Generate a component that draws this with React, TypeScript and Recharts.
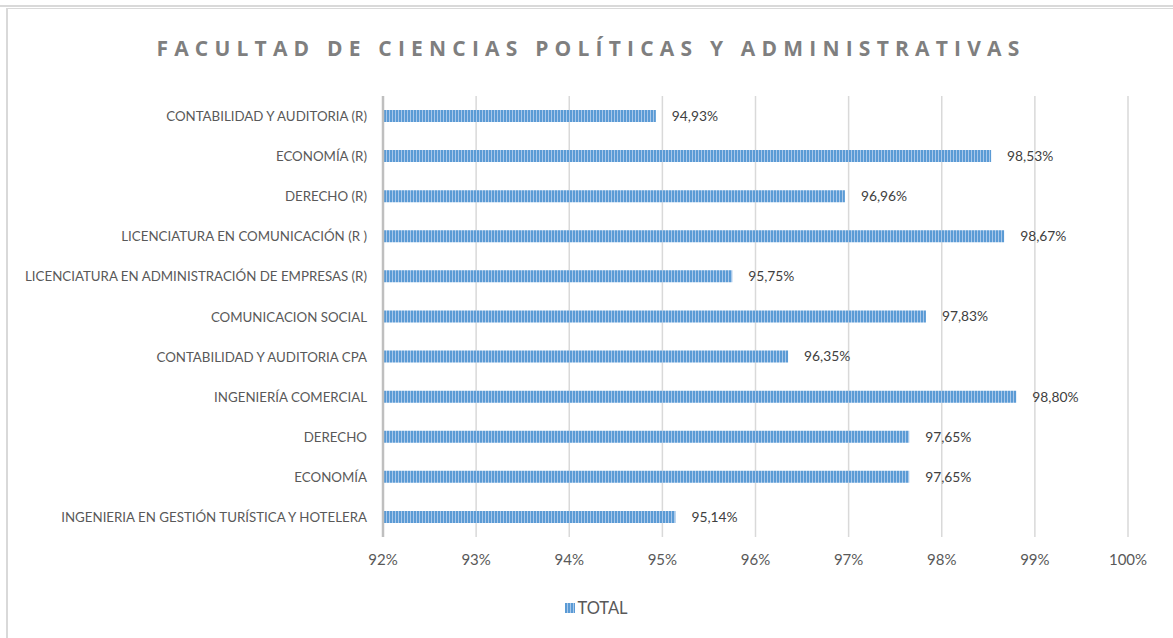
import React from "react";
import { BarChart, Bar, XAxis, YAxis, CartesianGrid, LabelList, Legend } from "recharts";

const categories: string[] = [
  "CONTABILIDAD Y AUDITORIA (R)",
  "ECONOMÍA (R)",
  "DERECHO (R)",
  "LICENCIATURA EN COMUNICACIÓN (R )",
  "LICENCIATURA EN ADMINISTRACIÓN DE EMPRESAS (R)",
  "COMUNICACION SOCIAL",
  "CONTABILIDAD Y AUDITORIA CPA",
  "INGENIERÍA COMERCIAL",
  "DERECHO",
  "ECONOMÍA",
  "INGENIERIA EN GESTIÓN TURÍSTICA Y HOTELERA",
];

const totals: number[] = [94.93, 98.53, 96.96, 98.67, 95.75, 97.83, 96.35, 98.8, 97.65, 97.65, 95.14];

const xTicks: number[] = [92, 93, 94, 95, 96, 97, 98, 99, 100];

const seriesName = "TOTAL";
const title = "FACULTAD DE CIENCIAS POLÍTICAS Y ADMINISTRATIVAS";

const data = categories.map((c, i) => ({ name: c, total: totals[i] }));

const fmtLabel = (v: any) => `${Number(v).toFixed(2).replace(".", ",")}%`;

const CategoryTick = (props: any) => {
  const { x, y, payload } = props;
  return (
    <text
      x={x - 14}
      y={y}
      textAnchor="end"
      dominantBaseline="central"
      style={{ fill: "#595959", fontSize: 13.3, fontFamily: "Lato, sans-serif" }}
    >
      {payload.value}
    </text>
  );
};

const LegendContent = () => (
  <div style={{ display: "flex", justifyContent: "center", alignItems: "center", height: 20, fontFamily: "Lato, sans-serif", fontSize: 16.5, color: "#595959" }}>
    <svg width={10} height={10} style={{ marginRight: 2 }}>
      <rect x={0} y={0} width={10} height={10} fill="url(#stripes)" />
    </svg>
    <span>{seriesName}</span>
  </div>
);

export default function App() {
  return (
    <div style={{ position: "absolute", left: 0, top: 0, width: 1173, height: 638, background: "#fff", overflow: "hidden" }}>
      <div style={{ position: "absolute", left: 0, top: 5, width: 1173, height: 2, background: "#d9d9d9" }} />
      <div style={{ position: "absolute", left: 6, top: 8, width: 1167, height: 630, borderLeft: "2px solid #d9d9d9", borderTop: "1px solid #d9d9d9", boxSizing: "border-box" }} />
      <div style={{ position: "absolute", left: 0, top: 0 }}>
        <BarChart
          width={1173}
          height={638}
          data={data}
          layout="vertical"
          margin={{ top: 96, right: 45, bottom: 20, left: 0 }}
          barCategoryGap="35%"
        >
          <defs>
            <pattern id="stripes" patternUnits="userSpaceOnUse" width={3} height={10}>
              <rect x={0} y={0} width={3} height={10} fill="#a9c8ea" />
              <rect x={0} y={0} width={2} height={10} fill="#5b9bd5" />
            </pattern>
          </defs>
          <text
            x={591}
            y={48}
            textAnchor="middle"
            dominantBaseline="central"
            style={{ fontFamily: "'Open Sans', sans-serif", fontWeight: 700, fontSize: 21, letterSpacing: 6.2, fill: "#7f7f7f" }}
          >
            {title}
          </text>
          <CartesianGrid horizontal={false} stroke="#d9d9d9" strokeWidth={1.5} />
          <XAxis
            type="number"
            domain={[92, 100]}
            ticks={xTicks}
            allowDataOverflow
            tickFormatter={(v: number) => `${v}%`}
            axisLine={false}
            tickLine={false}
            tickSize={0}
            tickMargin={17}
            height={61}
            tick={{ fill: "#595959", fontSize: 15, fontFamily: "Lato, sans-serif" }}
          />
          <YAxis
            type="category"
            dataKey="name"
            width={383}
            axisLine={{ stroke: "#bfbfbf", strokeWidth: 2.5 }}
            tickLine={false}
            tickSize={0}
            interval={0}
            tick={<CategoryTick />}
          />
          <Legend verticalAlign="bottom" content={<LegendContent />} wrapperStyle={{ left: 10, width: 1173 }} />
          <Bar dataKey="total" name={seriesName} fill="url(#stripes)" barSize={12} isAnimationActive={false}>
            <LabelList dataKey="total" position="right" offset={16} formatter={fmtLabel} style={{ fill: "#404040", fontSize: 13.8, fontFamily: "Lato, sans-serif" }} />
          </Bar>
        </BarChart>
      </div>
    </div>
  );
}
